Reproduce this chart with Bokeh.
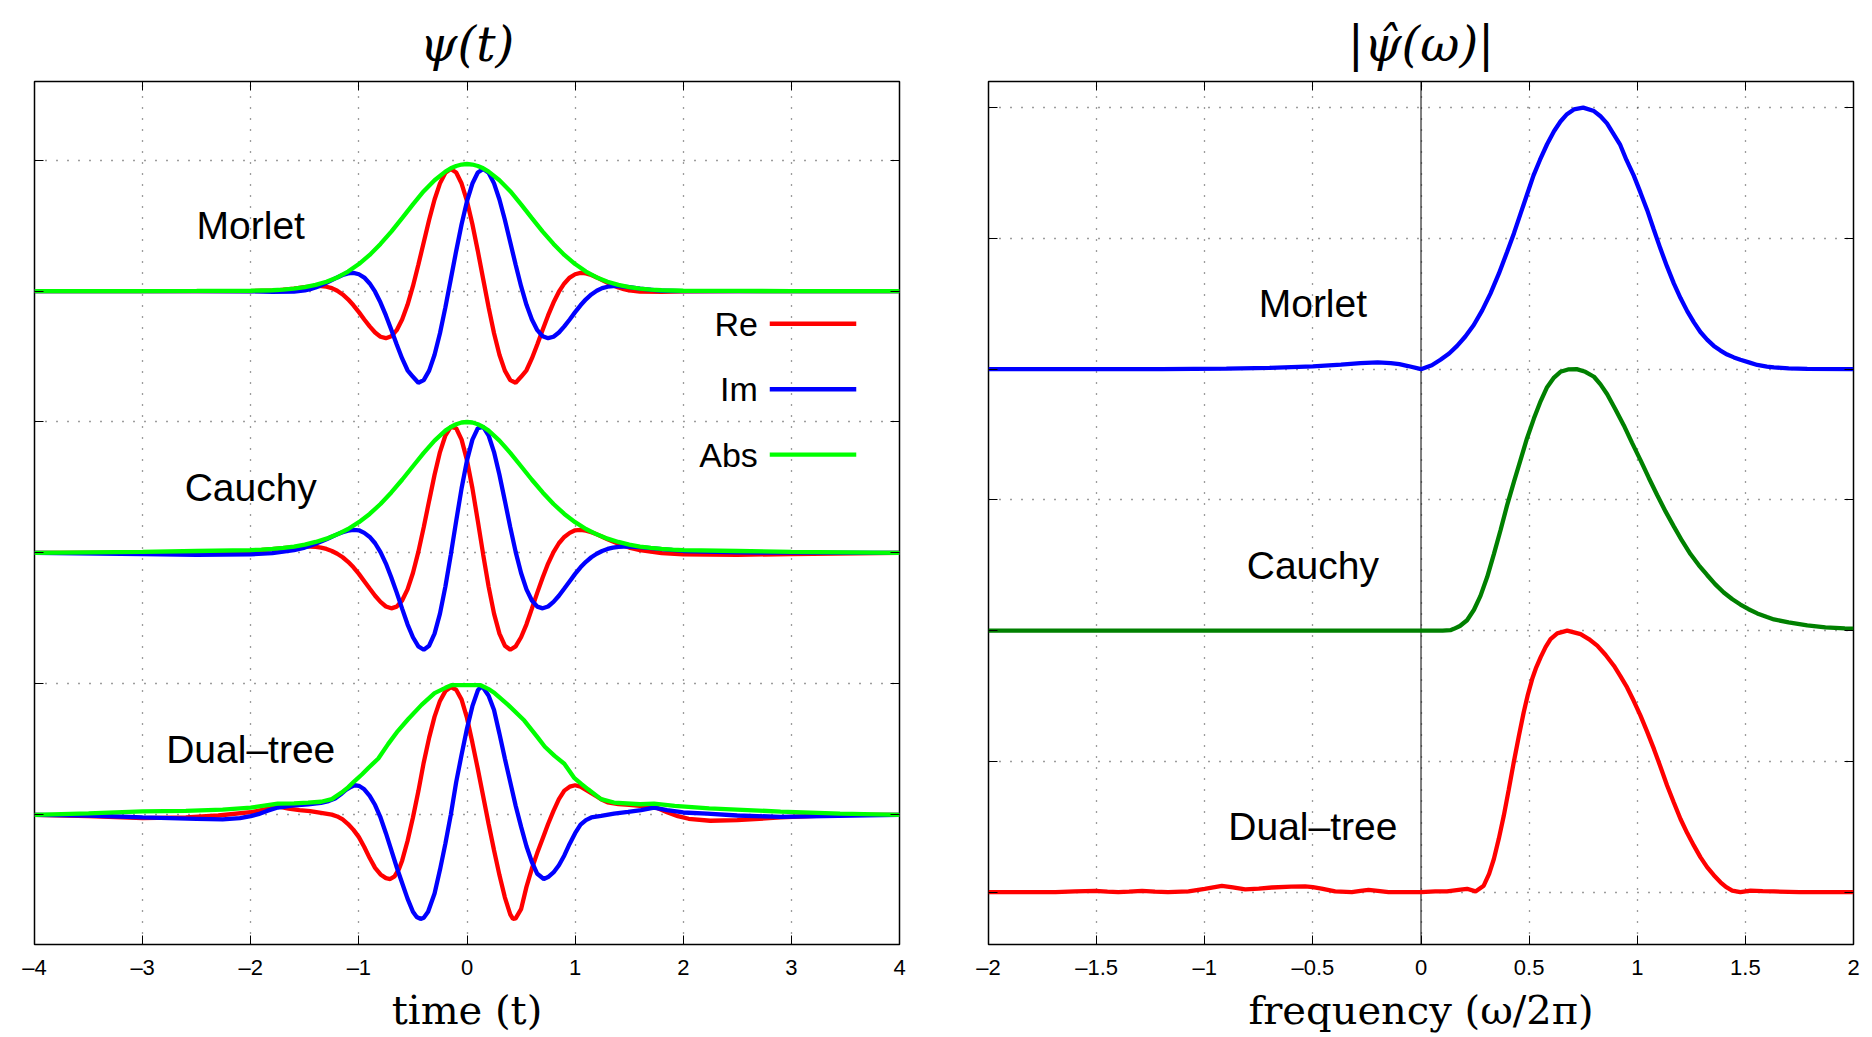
from bokeh.plotting import figure
from bokeh.models import LinearAxis, FixedTicker, CustomJSTickFormatter, Span, Label, Range1d
from bokeh.layouts import row
from bokeh.embed import file_html
from bokeh.resources import INLINE

# ---------------- left panel: psi(t) ----------------
T_LEFT = [-4, -3, -2.5, -2, -1.8, -1.6,
          -1.5, -1.45, -1.4, -1.35, -1.3, -1.25, -1.2, -1.15, -1.1, -1.05,
          -1.0, -0.95, -0.9, -0.85, -0.8, -0.75, -0.7, -0.65, -0.6, -0.55,
          -0.5, -0.45, -0.4, -0.35, -0.3, -0.25, -0.2, -0.15, -0.1, -0.05,
          0, 0.05, 0.1, 0.15, 0.2, 0.25, 0.3, 0.35, 0.4, 0.45,
          0.5, 0.55, 0.6, 0.65, 0.7, 0.75, 0.8, 0.85, 0.9, 0.95,
          1.0, 1.05, 1.1, 1.15, 1.2, 1.25, 1.3, 1.35, 1.4, 1.45, 1.5,
          1.6, 1.8, 2, 2.5, 3, 4]

MORLET_RE = [0, 0, 0, 0.0, 0.002, 0.018,
             0.029, 0.034, 0.038, 0.038, 0.033, 0.022, 0.002, -0.026, -0.063, -0.109,
             -0.161, -0.217, -0.270, -0.317, -0.349, -0.360, -0.345, -0.299, -0.218, -0.105,
             0.037, 0.200, 0.373, 0.544, 0.699, 0.822, 0.903, 0.932, 0.905, 0.821,
             0.686, 0.510, 0.306, 0.090, -0.125, -0.322, -0.487, -0.608, -0.680, -0.700,
             -0.655, -0.605, -0.515, -0.408, -0.295, -0.186, -0.088, -0.005, 0.058, 0.103,
             0.128, 0.138, 0.135, 0.122, 0.104, 0.083, 0.063, 0.044, 0.027, 0.015, 0.005,
             -0.005, -0.006, -0.002, 0, 0, 0]

MORLET_IM = [0, 0, 0, -0.002, -0.006, -0.005,
             0.005, 0.015, 0.027, 0.044, 0.063, 0.083, 0.104, 0.122, 0.135, 0.138, 0.128,
             0.103, 0.058, -0.005, -0.088, -0.186, -0.295, -0.408, -0.515, -0.605, -0.655,
             -0.700, -0.680, -0.608, -0.487, -0.322, -0.125, 0.090, 0.306, 0.510, 0.686,
             0.821, 0.905, 0.932, 0.903, 0.822, 0.699, 0.544, 0.373, 0.200, 0.037,
             -0.105, -0.218, -0.299, -0.345, -0.360, -0.349, -0.317, -0.270, -0.217, -0.161,
             -0.109, -0.063, -0.026, 0.002, 0.022, 0.033, 0.038, 0.038, 0.034, 0.029,
             0.018, 0.002, 0.0, 0, 0, 0]

CAUCHY_RE = [0.0, 0.003, 0.004, 0.015, 0.029, 0.045,
             0.049, 0.049, 0.047, 0.041, 0.031, 0.015, -0.006, -0.033, -0.068, -0.110,
             -0.160, -0.216, -0.272, -0.327, -0.374, -0.409, -0.423, -0.410, -0.363, -0.278,
             -0.153, 0.008, 0.197, 0.399, 0.597, 0.770, 0.897, 0.962, 0.952, 0.865,
             0.707, 0.494, 0.244, -0.014, -0.257, -0.463, -0.616, -0.708, -0.739, -0.714,
             -0.644, -0.545, -0.425, -0.303, -0.187, -0.081, 0.006, 0.074, 0.122, 0.153,
             0.173, 0.176, 0.170, 0.158, 0.142, 0.124, 0.105, 0.087, 0.070, 0.055, 0.041,
             0.021, -0.002, -0.010, -0.015, -0.008, 0]

CAUCHY_IM = [0, -0.008, -0.015, -0.010, -0.002, 0.021,
             0.041, 0.055, 0.070, 0.087, 0.105, 0.124, 0.142, 0.158, 0.170, 0.176, 0.173,
             0.153, 0.122, 0.074, 0.006, -0.081, -0.187, -0.303, -0.425, -0.545, -0.644,
             -0.714, -0.739, -0.708, -0.616, -0.463, -0.257, -0.014, 0.244, 0.494, 0.707,
             0.865, 0.952, 0.962, 0.897, 0.770, 0.597, 0.399, 0.197, 0.008, -0.153,
             -0.278, -0.363, -0.410, -0.423, -0.409, -0.374, -0.327, -0.272, -0.216, -0.160,
             -0.110, -0.068, -0.033, -0.006, 0.015, 0.031, 0.041, 0.047, 0.049, 0.049,
             0.045, 0.029, 0.015, 0.004, 0.003, 0.0]

T_ABS = [-4, -3, -2.5, -2, -1.9, -1.8, -1.7, -1.6, -1.5, -1.4, -1.3, -1.2, -1.1, -1.0,
         -0.9, -0.8, -0.7, -0.6, -0.5, -0.4, -0.3, -0.2, -0.15, -0.1, -0.05, 0,
         0.05, 0.1, 0.15, 0.2, 0.3, 0.4, 0.5, 0.6, 0.7, 0.8, 0.9, 1.0,
         1.1, 1.2, 1.3, 1.4, 1.5, 1.6, 1.7, 1.8, 1.9, 2, 2.5, 3, 4]

MORLET_ABS = [0, 0, 0.0005, 0.002, 0.004, 0.006, 0.011, 0.018, 0.030, 0.047, 0.071, 0.104, 0.149, 0.206,
              0.276, 0.360, 0.454, 0.557, 0.662, 0.762, 0.846, 0.912, 0.937, 0.955, 0.966, 0.970,
              0.966, 0.955, 0.937, 0.912, 0.846, 0.762, 0.662, 0.557, 0.454, 0.360, 0.276, 0.206,
              0.149, 0.104, 0.071, 0.047, 0.030, 0.018, 0.011, 0.006, 0.004, 0.002, 0.0005, 0, 0]

CAUCHY_ABS = [0.0, 0.008, 0.015, 0.022, 0.026, 0.031, 0.039, 0.049, 0.064, 0.084, 0.109, 0.142, 0.183, 0.235,
              0.298, 0.374, 0.462, 0.559, 0.662, 0.764, 0.858, 0.934, 0.962, 0.983, 0.996, 1.0,
              0.996, 0.983, 0.962, 0.934, 0.858, 0.764, 0.662, 0.559, 0.462, 0.374, 0.298, 0.235,
              0.183, 0.142, 0.109, 0.084, 0.064, 0.049, 0.039, 0.031, 0.026, 0.022, 0.015, 0.008, 0.0]

DT_RE_T = [-4, -3.5, -3.0, -2.6, -2.3, -2.0, -1.85, -1.75, -1.65, -1.55, -1.45, -1.35, -1.25, -1.2,
           -1.15, -1.1, -1.05, -1.0, -0.95, -0.9, -0.85, -0.8, -0.75, -0.71, -0.67, -0.63, -0.6,
           -0.55, -0.5, -0.45, -0.4, -0.35, -0.3, -0.25, -0.2, -0.15, -0.1, -0.05, 0, 0.05, 0.1,
           0.15, 0.2, 0.25, 0.3, 0.35, 0.4, 0.425, 0.45, 0.5, 0.55, 0.6, 0.65, 0.7, 0.75, 0.8,
           0.85, 0.9, 0.95, 1.0, 1.05, 1.1, 1.15, 1.2, 1.25, 1.3, 1.4, 1.5, 1.6, 1.7, 1.75, 1.85,
           1.95, 2.05, 2.25, 2.5, 2.9, 3.45, 4]
DT_RE = [0, -0.01, -0.025, -0.02, -0.005, 0.02, 0.045, 0.065, 0.048, 0.036, 0.028, 0.016, 0.002, -0.012,
         -0.035, -0.07, -0.115, -0.17, -0.245, -0.33, -0.405, -0.455, -0.483, -0.49, -0.47, -0.415, -0.35,
         -0.2, -0.02, 0.18, 0.40, 0.59, 0.75, 0.87, 0.945, 0.975, 0.955, 0.88, 0.74, 0.55, 0.35,
         0.14, -0.07, -0.27, -0.46, -0.63, -0.76, -0.795, -0.79, -0.72, -0.55, -0.41, -0.29, -0.18, -0.07, 0.03,
         0.12, 0.185, 0.215, 0.226, 0.215, 0.19, 0.165, 0.14, 0.115, 0.095, 0.082, 0.076, 0.068, 0.062, 0.056, 0.02,
         -0.01, -0.03, -0.045, -0.04, -0.02, 0.0, 0]

DT_IM_T = [-4, -3.5, -3.0, -2.5, -2.26, -2.1, -2.0, -1.93, -1.85, -1.75, -1.62, -1.47, -1.35, -1.28,
           -1.22, -1.17, -1.12, -1.07, -1.04, -1.0, -0.95, -0.9, -0.85, -0.8, -0.75, -0.7, -0.65,
           -0.6, -0.55, -0.5, -0.465, -0.43, -0.4, -0.36, -0.3, -0.25, -0.2, -0.15, -0.1, -0.05,
           0.0, 0.05, 0.1, 0.125, 0.15, 0.2, 0.25, 0.3, 0.35, 0.4, 0.45, 0.5, 0.55, 0.6, 0.65,
           0.71, 0.75, 0.8, 0.85, 0.9, 0.95, 1.0, 1.05, 1.1, 1.15, 1.24, 1.36, 1.49, 1.61, 1.73,
           1.85, 2.0, 2.22, 2.5, 2.9, 3.3, 3.7, 4]
DT_IM = [0, -0.005, -0.02, -0.03, -0.035, -0.025, -0.01, 0.005, 0.03, 0.056, 0.07, 0.08, 0.092, 0.105,
         0.125, 0.155, 0.19, 0.215, 0.226, 0.222, 0.195, 0.145, 0.075, -0.02, -0.14, -0.27, -0.40,
         -0.52, -0.64, -0.74, -0.78, -0.795, -0.785, -0.74, -0.60, -0.42, -0.22, 0.0, 0.25, 0.46,
         0.66, 0.83, 0.95, 0.975, 0.97, 0.91, 0.80, 0.62, 0.43, 0.25, 0.07, -0.09, -0.24, -0.36, -0.45,
         -0.49, -0.475, -0.44, -0.385, -0.31, -0.22, -0.14, -0.075, -0.04, -0.02, -0.008, 0.01, 0.023, 0.036, 0.056,
         0.036, 0.018, 0.01, -0.005, -0.015, -0.01, -0.003, 0]

DT_ABS_T = [-4, -3.5, -3.0, -2.6, -2.26, -2.0, -1.75, -1.6, -1.47, -1.35, -1.25, -1.16, -1.1, -1.037,
            -0.97, -0.91, -0.82, -0.73, -0.64, -0.545, -0.42, -0.3, -0.2, -0.145, 0.126, 0.2, 0.255,
            0.38, 0.53, 0.655, 0.72, 0.81, 0.9, 0.994, 1.06, 1.12, 1.24, 1.36, 1.6, 1.73, 1.92,
            2.24, 2.9, 3.45, 4]
DT_ABS = [0, 0.012, 0.026, 0.03, 0.04, 0.055, 0.086, 0.088, 0.094, 0.10, 0.12, 0.17, 0.21, 0.26,
          0.31, 0.36, 0.43, 0.54, 0.64, 0.73, 0.84, 0.93, 0.97, 0.99, 0.99, 0.96, 0.93,
          0.84, 0.72, 0.59, 0.52, 0.45, 0.39, 0.28, 0.235, 0.195, 0.12, 0.094, 0.081, 0.086, 0.069,
          0.05, 0.025, 0.01, 0]

# ---------------- right panel: |psi_hat(omega)| ----------------
F_MORLET = [-2, -1.2, -0.9, -0.7, -0.5, -0.37, -0.28, -0.2, -0.14, -0.1, -0.06, 0, 0.05, 0.09, 0.13,
            0.167, 0.205, 0.244, 0.283, 0.321, 0.36, 0.398, 0.43, 0.46, 0.49, 0.52, 0.55, 0.583,
            0.615, 0.645, 0.675, 0.707, 0.75, 0.8, 0.83, 0.86, 0.89, 0.92, 0.95, 0.984, 1.015,
            1.046, 1.076, 1.107, 1.138, 1.169, 1.2, 1.231, 1.262, 1.292, 1.323, 1.354, 1.385,
            1.416, 1.447, 1.477, 1.52, 1.555, 1.6, 1.632, 1.7, 1.786, 2]
S_MORLET = [0, 0, 0.002, 0.005, 0.011, 0.017, 0.023, 0.026, 0.023, 0.019, 0.012, 0, 0.015, 0.036, 0.06,
            0.089, 0.125, 0.169, 0.225, 0.289, 0.365, 0.448, 0.52, 0.594, 0.667, 0.74, 0.80, 0.86,
            0.91, 0.947, 0.975, 0.993, 1.0, 0.987, 0.967, 0.94, 0.90, 0.86, 0.80, 0.74, 0.675,
            0.608, 0.535, 0.461, 0.392, 0.328, 0.272, 0.222, 0.179, 0.142, 0.113, 0.089, 0.071,
            0.056, 0.045, 0.036, 0.025, 0.016, 0.01, 0.007, 0.003, 0.001, 0]

F_CAUCHY = [-2, 0.1, 0.136, 0.152, 0.18, 0.213, 0.245, 0.275, 0.306, 0.337, 0.368, 0.398, 0.43, 0.46,
            0.49, 0.522, 0.553, 0.583, 0.615, 0.645, 0.68, 0.72, 0.76, 0.8, 0.83, 0.861, 0.9, 0.938,
            0.976, 1.015, 1.053, 1.092, 1.13, 1.169, 1.207, 1.246, 1.285, 1.323, 1.36, 1.4, 1.44,
            1.477, 1.515, 1.555, 1.6, 1.632, 1.7, 1.786, 1.87, 1.96, 2]
S_CAUCHY = [0, 0, 0.002, 0.007, 0.018, 0.04, 0.08, 0.133, 0.205, 0.293, 0.385, 0.479, 0.57, 0.652,
            0.735, 0.811, 0.877, 0.931, 0.968, 0.99, 0.999, 1.0, 0.99, 0.971, 0.942, 0.904, 0.845, 0.785,
            0.718, 0.652, 0.585, 0.519, 0.457, 0.399, 0.344, 0.293, 0.25, 0.213, 0.178, 0.146, 0.12,
            0.1, 0.082, 0.066, 0.052, 0.043, 0.032, 0.02, 0.013, 0.009, 0.008]

F_DT = [-2, -1.69, -1.6, -1.507, -1.45, -1.4, -1.35, -1.29, -1.23, -1.17, -1.075, -1.0, -0.921, -0.87,
        -0.813, -0.75, -0.69, -0.6, -0.536, -0.5, -0.46, -0.397, -0.32, -0.28, -0.243, -0.2, -0.15,
        0, 0.066, 0.12, 0.183, 0.213, 0.252, 0.29, 0.315, 0.337, 0.36, 0.383, 0.406, 0.429, 0.452,
        0.475, 0.494, 0.514, 0.533, 0.553, 0.576, 0.599, 0.63, 0.676, 0.738, 0.776, 0.815, 0.853,
        0.892, 0.922, 0.953, 0.984, 1.015, 1.046, 1.077, 1.108, 1.138, 1.169, 1.2, 1.231, 1.262,
        1.292, 1.323, 1.354, 1.385, 1.41, 1.439, 1.477, 1.524, 1.58, 1.632, 1.75, 2]
S_DT = [0, 0, 0.003, 0.005, 0.002, 0, 0.002, 0.005, 0.002, 0, 0.003, 0.013, 0.024, 0.018,
        0.011, 0.014, 0.018, 0.021, 0.022, 0.019, 0.014, 0.003, 0, 0.005, 0.009, 0.005, 0,
        0, 0.003, 0.003, 0.01, 0.013, 0.003, 0.025, 0.07, 0.127, 0.205, 0.293, 0.393, 0.497, 0.595,
        0.688, 0.755, 0.815, 0.86, 0.898, 0.937, 0.968, 0.99, 1.0, 0.987, 0.968, 0.943, 0.908,
        0.866, 0.826, 0.783, 0.731, 0.675, 0.613, 0.548, 0.478, 0.408, 0.343, 0.28, 0.226, 0.178,
        0.134, 0.096, 0.065, 0.038, 0.02, 0.006, 0, 0.006, 0.004, 0.003, 0.0, 0]

NAMES = ["Morlet", "Cauchy", "Dual\u2013tree"]
LEFT_BASE = [4, 2, 0]
RIGHT_BASE = [2, 1, 0]
LEFT_XTICKS = [-4, -3, -2, -1, 0, 1, 2, 3, 4]
LEFT_YTICKS = [0, 1, 2, 3, 4, 5]
RIGHT_XTICKS = [-2, -1.5, -1, -0.5, 0, 0.5, 1, 1.5, 2]
RIGHT_YTICKS = [0, 0.5, 1, 1.5, 2, 2.5, 3]
LEGEND_LABELS = ["Re", "Im", "Abs"]

RED, BLUE, LIME, DKGREEN = "#ff0000", "#0000ff", "#00ff00", "#008000"
LW = 4.3


def make_fig(x_range, y_range, bl, br, title, xlabel, xticks, yticks):
    p = figure(frame_width=865, frame_height=863, x_range=Range1d(*x_range), y_range=Range1d(*y_range),
               output_backend="svg", toolbar_location=None,
               min_border_left=bl, min_border_right=br, min_border_top=81, min_border_bottom=92)
    p.background_fill_color = "white"
    p.border_fill_color = "white"
    p.outline_line_color = "black"
    p.outline_line_width = 1.5
    p.title.text = title
    p.title.align = "center"
    p.title.offset = -9
    p.title.text_font = "DejaVu Serif"
    p.title.text_font_style = "italic"
    p.title.text_font_size = "48px"
    p.title.text_color = "black"
    p.title.standoff = 19
    fmt = CustomJSTickFormatter(code="return tick < 0 ? '\\u2013' + String(-tick) : String(tick);")
    blank = CustomJSTickFormatter(code="return '';")
    ax_b = p.xaxis[0]
    ax_l = p.yaxis[0]
    ax_t = LinearAxis()
    ax_r = LinearAxis()
    p.add_layout(ax_t, "above")
    p.add_layout(ax_r, "right")
    for ax, ticks in [(ax_b, xticks), (ax_t, xticks), (ax_l, yticks), (ax_r, yticks)]:
        ax.ticker = FixedTicker(ticks=ticks)
        ax.major_tick_in = 9
        ax.major_tick_out = 0
        ax.major_tick_line_color = "black"
        ax.major_tick_line_width = 1
        ax.minor_tick_line_color = None
        ax.axis_line_color = None
    for ax in (ax_t, ax_l, ax_r):
        ax.formatter = blank
        ax.major_label_text_color = None
        ax.major_label_standoff = 0
    ax_b.formatter = fmt
    ax_b.major_label_text_font = "Liberation Sans"
    ax_b.major_label_text_font_size = "22px"
    ax_b.major_label_text_color = "black"
    ax_b.major_label_standoff = 10
    ax_b.axis_label = xlabel
    ax_b.axis_label_text_font = "DejaVu Serif"
    ax_b.axis_label_text_font_style = "normal"
    ax_b.axis_label_text_font_size = "40px"
    ax_b.axis_label_text_color = "black"
    ax_b.axis_label_standoff = 4
    p.xgrid.ticker = FixedTicker(ticks=xticks)
    p.ygrid.ticker = FixedTicker(ticks=yticks)
    for g in (p.xgrid, p.ygrid):
        g.grid_line_color = "#3a3a3a"
        g.grid_line_dash = "1 10"
        g.grid_line_width = 1.3
    return p


# ---- left ----
p1 = make_fig((-4, 4), (-0.99, 5.6), 34, 30, "\u03c8(t)", "time (t)", LEFT_XTICKS, LEFT_YTICKS)
left_sets = [(MORLET_RE, MORLET_IM, T_LEFT, T_LEFT, MORLET_ABS, T_ABS),
             (CAUCHY_RE, CAUCHY_IM, T_LEFT, T_LEFT, CAUCHY_ABS, T_ABS),
             (DT_RE, DT_IM, DT_RE_T, DT_IM_T, DT_ABS, DT_ABS_T)]
for (re, im, tre, tim, ab, tab), base, name in zip(left_sets, LEFT_BASE, NAMES):
    p1.line(tre, [v + base for v in re], line_color=RED, line_width=LW)
    p1.line(tim, [v + base for v in im], line_color=BLUE, line_width=LW)
    p1.line(tab, [v + base for v in ab], line_color=LIME, line_width=LW)
    p1.add_layout(Label(x=-2, y=base + 0.5, text=name, text_align="center", text_baseline="middle",
                        text_font="Liberation Sans", text_font_size="39px", text_color="black"))

# legend (label on the left of its line sample)
for lab, col, ly in zip(LEGEND_LABELS, [RED, BLUE, LIME], [3.75, 3.25, 2.75]):
    p1.add_layout(Label(x=2.69, y=ly, text=lab, text_align="right", text_baseline="middle",
                        text_font="Liberation Sans", text_font_size="34px", text_color="black"))
    p1.line([2.8, 3.6], [ly, ly], line_color=col, line_width=LW)

# ---- right ----
p2 = make_fig((-2, 2), (-0.2, 3.1), 59, 11, "|\u03c8\u0302(\u03c9)|", "frequency (\u03c9/2\u03c0)",
              RIGHT_XTICKS, RIGHT_YTICKS)
zero_line = Span(location=0, dimension="height", line_color="black", line_width=1, level="underlay")
p2.add_layout(zero_line)
right_sets = [(F_MORLET, S_MORLET, BLUE), (F_CAUCHY, S_CAUCHY, DKGREEN), (F_DT, S_DT, RED)]
for (f, s, col), base, name in zip(right_sets, RIGHT_BASE, NAMES):
    p2.line(f, [v + base for v in s], line_color=col, line_width=LW)
    p2.add_layout(Label(x=-0.5, y=base + 0.25, text=name, text_align="center", text_baseline="middle",
                        text_font="Liberation Sans", text_font_size="39px", text_color="black"))

layout = row(p1, p2)
open("out.html", "w").write(file_html(layout, INLINE))
